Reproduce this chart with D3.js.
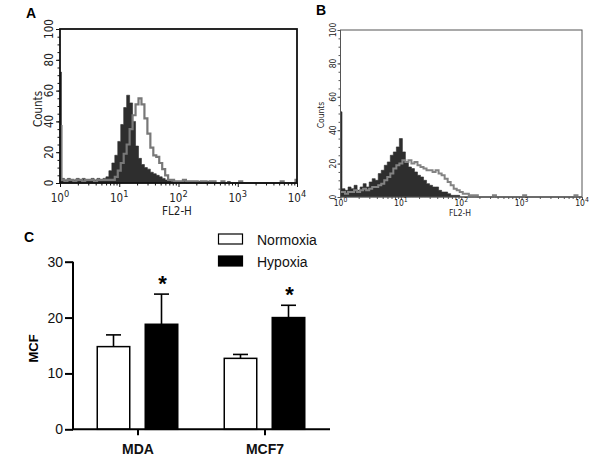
<!DOCTYPE html>
<html><head><meta charset="utf-8">
<script src="https://cdn.jsdelivr.net/npm/d3@7"></script>
<style>
html,body{margin:0;padding:0;background:#fff;}
svg{display:block;}
.narrow{font-family:"Liberation Sans Narrow","DejaVu Sans Condensed","Arial Narrow",sans-serif;}
.sans{font-family:"Liberation Sans",Arial,Helvetica,sans-serif;}
</style>
</head><body>
<svg id="fig" width="600" height="474"></svg>
<script>
// ---------- DATA ----------
// Flow cytometry histograms: counts per bin; bins are 0.05 decade wide starting at 10^0.025,
// plus the first (lowest) channel reported separately.
const histStartLog = 0.025;
const histStepLog = 0.05;
const countTicks = [0, 20, 40, 60, 80, 100];
const decadeTicks = [0, 1, 2, 3, 4];

const aFilledFirst = 72;
const aFilled = [3,2,3,2,2,3,2,3,2,2, 3,2,3,2,3,4,8,13,18,27,
                 38,49,57,52,40,24,16,12,10,9, 7,6,5,4,3,2,2,1,1,1,
                 1,1,0,1,1,0,1,0,0,1, 0,0,0,0,0,0,1,0,0,0,
                 0,0,0,0,0,0,0,0,0,0, 0,0,0,0,0,0,0,0,0,1];
const aOutlineFirst = 37;
const aOutline = [2,1,2,2,1,2,2,1,2,2, 2,1,2,2,2,2,2,2,4,8,
                  13,19,25,35,44,51,55,51,42,32, 23,18,17,13,9,5,2,2,1,1,
                  1,2,1,1,1,1,0,1,1,0, 1,1,0,0,1,0,0,0,0,0,
                  1,0,0,0,0,0,0,0,0,0, 0,0,0,0,1,0,0,0,0,2];

const bFilledFirst = 51;
const bFilled = [5,4,6,5,7,4,6,8,6,9, 11,10,14,16,19,21,25,27,30,35,
                 27,21,18,17,15,13,12,10,8,7, 6,6,4,3,3,2,1,1,1,0,
                 0,0,0,0,0,0,0,0,0,0, 0,0,0,0,0,0,0,0,0,0,
                 0,0,0,0,0,0,0,0,0,0, 0,0,0,0,0,0,0,0,0,0];
const bOutlineFirst = 3;
const bOutline = [3,2,3,3,4,3,4,5,4,5, 6,6,7,8,10,12,14,17,19,20,
                  22,21,22,20,21,19,18,17,16,16, 15,16,14,13,11,9,7,5,4,3,
                  2,2,1,1,1,0,0,0,0,0, 1,0,0,0,0,0,0,0,0,0,
                  1,0,0,0,0,0,0,0,0,0, 0,0,0,0,0,0,0,1,0,0];

// Bar chart (panel C)
const cellLines = ["MDA", "MCF7"];
const conditions = ["Normoxia", "Hypoxia"];
const normoxiaMCF = [14.8, 12.7];
const normoxiaSEM = [2.1, 0.7];
const hypoxiaMCF = [18.8, 20.0];
const hypoxiaSEM = [5.4, 2.2];
const hypoxiaSignificant = ["*", "*"];
const mcfTicks = [0, 10, 20, 30];

// ---------- DRAW ----------
const svg = d3.select("#fig");

function histPoints(first, arr) {
  const pts = [{x: Math.pow(10, 0), v: first}];
  arr.forEach((v, i) => pts.push({x: Math.pow(10, histStartLog + i * histStepLog), v: v}));
  pts.push({x: Math.pow(10, 4), v: arr[arr.length - 1]});
  return pts;
}

function histPanel(cfg) {
  const g = svg.append("g");
  const x = d3.scaleLog().domain([1, 1e4]).range(cfg.xr);
  const y = d3.scaleLinear().domain([0, 100]).range(cfg.yr);

  const filled = histPoints(cfg.filledFirst, cfg.filled);
  const outline = histPoints(cfg.outlineFirst, cfg.outline);

  g.append("path")
    .attr("d", d3.area().curve(d3.curveStepAfter)
      .x(d => x(d.x)).y0(y(0)).y1(d => y(d.v))(filled))
    .attr("fill", cfg.fill).attr("stroke", cfg.fill).attr("stroke-width", 0.6);

  g.append("path")
    .attr("d", d3.line().curve(d3.curveStepAfter)
      .x(d => x(d.x)).y(d => y(d.v))(outline))
    .attr("fill", "none").attr("stroke", cfg.line).attr("stroke-width", cfg.lineW)
    .attr("stroke-linejoin", "miter");

  // frame
  g.append("rect")
    .attr("x", cfg.xr[0]).attr("y", cfg.yr[1])
    .attr("width", cfg.xr[1] - cfg.xr[0]).attr("height", cfg.yr[0] - cfg.yr[1])
    .attr("fill", "none").attr("stroke", cfg.frame).attr("stroke-width", cfg.frameW);

  // y axis ticks
  const yAxis = d3.axisLeft(y).tickValues(countTicks).tickSize(cfg.majorTick).tickFormat("");
  const ya = g.append("g").attr("transform", `translate(${cfg.xr[0]},0)`).call(yAxis);
  const yMinor = d3.axisLeft(y).tickValues(d3.range(0, 101, 5)).tickSize(cfg.minorTick).tickFormat("");
  const ym = g.append("g").attr("transform", `translate(${cfg.xr[0]},0)`).call(yMinor);
  [ya, ym].forEach(s => { s.select(".domain").remove(); s.selectAll("line").attr("stroke", cfg.frame).attr("stroke-width", 1); });

  // x axis ticks
  const majors = decadeTicks.map(e => Math.pow(10, e));
  const minors = [];
  for (let e = 0; e < 4; e++) for (let k = 2; k <= 9; k++) minors.push(k * Math.pow(10, e));
  const xa = g.append("g").attr("transform", `translate(0,${cfg.yr[0]})`)
    .call(d3.axisBottom(x).tickValues(majors).tickSize(cfg.majorTick).tickFormat(""));
  const xm = g.append("g").attr("transform", `translate(0,${cfg.yr[0]})`)
    .call(d3.axisBottom(x).tickValues(minors).tickSize(cfg.minorTick).tickFormat(""));
  [xa, xm].forEach(s => { s.select(".domain").remove(); s.selectAll("line").attr("stroke", cfg.frame).attr("stroke-width", 1); });

  // y tick labels (rotated)
  g.selectAll("text.yl").data(countTicks).join("text")
    .attr("class", "narrow")
    .attr("transform", d => `translate(${cfg.yLabX},${y(d)}) rotate(-90)`)
    .attr("text-anchor", "middle").attr("font-size", cfg.fs).attr("fill", "#222")
    .text(d => d);

  // x tick labels 10^n
  decadeTicks.forEach(e => {
    const t = g.append("text").attr("class", "narrow")
      .attr("x", x(Math.pow(10, e))).attr("y", cfg.xLabY)
      .attr("text-anchor", "middle").attr("font-size", cfg.fs).attr("fill", "#222");
    t.append("tspan").text("10");
    t.append("tspan").attr("dy", -cfg.fs * 0.45).attr("font-size", cfg.fs * 0.8).text(e);
  });

  g.append("text").attr("class", "narrow")
    .attr("transform", `translate(${cfg.countsX},${cfg.countsY}) rotate(-90)`)
    .attr("text-anchor", "middle").attr("font-size", cfg.fs).attr("fill", "#222").text("Counts");
  g.append("text").attr("class", "narrow")
    .attr("x", cfg.fl2X).attr("y", cfg.fl2Y)
    .attr("text-anchor", "middle").attr("font-size", cfg.fs).attr("fill", "#222").text("FL2-H");

  svg.append("text").attr("class", "sans")
    .attr("x", cfg.letterX).attr("y", cfg.letterY)
    .attr("font-size", 14).attr("font-weight", "bold").text(cfg.letter);
}

histPanel({
  xr: [60, 297], yr: [183, 29],
  filled: aFilled, filledFirst: aFilledFirst, outline: aOutline, outlineFirst: aOutlineFirst,
  fill: "#2e2e2e", line: "#787878", lineW: 2.2, frame: "#111", frameW: 1.8,
  majorTick: 4, minorTick: 2.5, fs: 11.5,
  yLabX: 53, xLabY: 202, countsX: 42, countsY: 109, fl2X: 177, fl2Y: 215,
  letter: "A", letterX: 26, letterY: 18
});

histPanel({
  xr: [340.5, 582], yr: [197, 30],
  filled: bFilled, filledFirst: bFilledFirst, outline: bOutline, outlineFirst: bOutlineFirst,
  fill: "#2e2e2e", line: "#838383", lineW: 2, frame: "#555", frameW: 1,
  majorTick: 3, minorTick: 2, fs: 8.5,
  yLabX: 335.5, xLabY: 206, countsX: 323.5, countsY: 115, fl2X: 460, fl2Y: 216,
  letter: "B", letterX: 316, letterY: 15
});

// ---------- Panel C bar chart ----------
const cg = svg.append("g");
const xC = d3.scalePoint().domain(cellLines).range([74, 328]).padding(0.5);
const xSub = d3.scaleBand().domain(conditions).range([-40.25, 40.25]).paddingInner(0.323);
const yC = d3.scaleLinear().domain([0, 30]).range([429.3, 261.7]);

const barData = [];
cellLines.forEach((c, i) => {
  barData.push({cat: c, cond: "Normoxia", v: normoxiaMCF[i], e: normoxiaSEM[i], sig: ""});
  barData.push({cat: c, cond: "Hypoxia", v: hypoxiaMCF[i], e: hypoxiaSEM[i], sig: hypoxiaSignificant[i]});
});

// error bars (upper only)
barData.forEach(d => {
  const cx = xC(d.cat) + xSub(d.cond) + xSub.bandwidth() / 2;
  cg.append("line").attr("x1", cx).attr("x2", cx).attr("y1", yC(d.v)).attr("y2", yC(d.v + d.e))
    .attr("stroke", "#000").attr("stroke-width", 1.6);
  cg.append("line").attr("x1", cx - 7.5).attr("x2", cx + 7.5).attr("y1", yC(d.v + d.e)).attr("y2", yC(d.v + d.e))
    .attr("stroke", "#000").attr("stroke-width", 1.6);
  if (d.sig) {
    cg.append("text").attr("class", "sans").attr("x", cx + 1).attr("y", yC(d.v + d.e) - 3)
      .attr("text-anchor", "middle").attr("font-size", 22).attr("font-weight", "bold").text(d.sig);
  }
});

cg.selectAll("rect.bar").data(barData).join("rect")
  .attr("x", d => xC(d.cat) + xSub(d.cond))
  .attr("y", d => yC(d.v))
  .attr("width", xSub.bandwidth())
  .attr("height", d => yC(0) - yC(d.v))
  .attr("fill", d => d.cond === "Hypoxia" ? "#000" : "#fff")
  .attr("stroke", "#000").attr("stroke-width", 1.5);

// axes
const yAxC = cg.append("g").attr("transform", "translate(73,0)")
  .call(d3.axisLeft(yC).tickValues(mcfTicks).tickSize(8).tickPadding(2));
yAxC.select(".domain").attr("stroke-width", 2).attr("d", `M0,${yC(30)}V${yC(0)}`);
yAxC.selectAll("line").attr("stroke-width", 2);
yAxC.selectAll("text").attr("class", "sans").attr("font-size", 14).attr("fill", "#111");

const xAxC = cg.append("g").attr("transform", `translate(0,${yC(0)})`)
  .call(d3.axisBottom(xC).tickSize(6).tickPadding(9));
xAxC.select(".domain").attr("stroke-width", 2).attr("d", "M72,0H330");
xAxC.selectAll("line").attr("stroke-width", 2);
xAxC.selectAll("text").attr("class", "sans").attr("font-size", 14).attr("font-weight", "bold").attr("fill", "#111");

cg.append("text").attr("class", "sans")
  .attr("transform", `translate(38,${(yC(0) + yC(30)) / 2 + 3}) rotate(-90)`)
  .attr("text-anchor", "middle").attr("font-size", 13).attr("font-weight", "bold").text("MCF");

// legend
const leg = cg.append("g");
conditions.forEach((c, i) => {
  leg.append("rect").attr("x", 218.5).attr("y", 234 + i * 22).attr("width", 24).attr("height", 10)
    .attr("fill", c === "Hypoxia" ? "#000" : "#fff").attr("stroke", "#000").attr("stroke-width", 1.2);
  leg.append("text").attr("class", "sans").attr("x", 257).attr("y", 244.5 + i * 22)
    .attr("font-size", 14).attr("fill", "#111").text(c);
});

svg.append("text").attr("class", "sans").attr("x", 24).attr("y", 242)
  .attr("font-size", 14).attr("font-weight", "bold").text("C");
</script>
</body></html>
